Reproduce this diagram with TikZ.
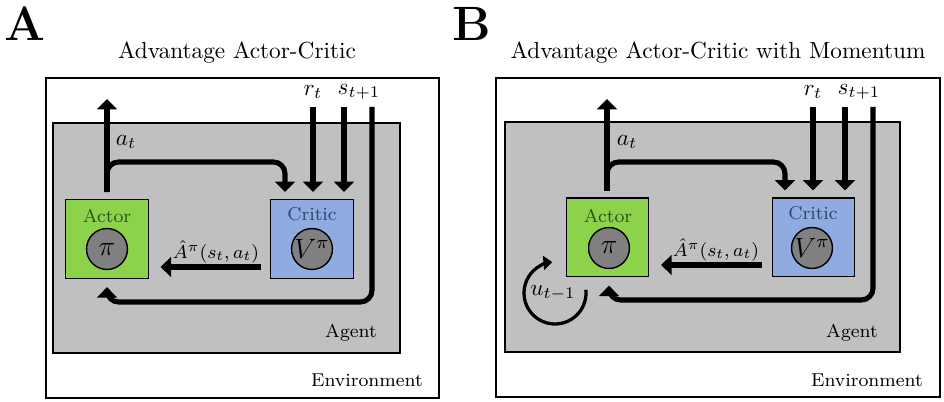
\documentclass[tikz,border=0pt]{standalone}
\usetikzlibrary{arrows.meta}
\definecolor{actorgreen}{HTML}{8DD24B}
\definecolor{criticblue}{HTML}{8FABDF}
\definecolor{agentgray}{HTML}{C0C0C0}
\definecolor{circgray}{HTML}{808080}
\definecolor{actortext}{HTML}{2C4F1C}
\definecolor{critictext}{HTML}{2D4270}
\tikzset{
  flow/.style={line width=2.2pt,-{Triangle[width=8.5pt,length=4.5pt]},rounded corners=5pt},
  momentum/.style={line width=1.4pt,-{Triangle[width=6pt,length=3.8pt]}},
  envbox/.style={draw,line width=0.9pt,fill=white},
  agentbox/.style={draw,line width=0.9pt,fill=agentgray},
  unitbox/.style={draw,line width=0.6pt,minimum width=35.5pt,minimum height=33.8pt,inner sep=0pt},
  policy/.style={circle,draw,line width=0.6pt,fill=circgray,minimum size=17.6pt,inner sep=0pt,font=\large},
  boxlabel/.style={font=\footnotesize},
  paneltitle/.style={font=\normalsize},
  panelletter/.style={font=\huge\bfseries},
}
\begin{document}
\begin{tikzpicture}[x=0.43pt,y=0.43pt]
  \useasboundingbox (0,0) rectangle (944,402);

  % panel A
  \node[panelletter] (letterA) at (25,378) {A};
  \node[paneltitle] (titleA) at (237,349) {Advantage Actor-Critic};
  \draw[envbox] (46,4) rectangle (439,324);
  \draw[agentbox] (53,49) rectangle (400,279);
  \node[boxlabel,anchor=east] (envlabA) at (431,22) {Environment};
  \node[boxlabel,anchor=east] (agentlabA) at (385,69) {Agent};
  \node[unitbox,fill=actorgreen] (actorA) at (107,163) {};
  \node[unitbox,fill=criticblue] (criticA) at (312,163) {};
  \node[boxlabel,text=actortext] (actorlabA) at (107,186) {Actor};
  \node[boxlabel,text=critictext] (criticlabA) at (312,188) {Critic};
  \node[policy] (piA) at (107,153) {$\pi$};
  \node[policy] (vA) at (312,153) {$V^{\pi}$};
  \coordinate (outA) at (107,303);
  \coordinate (brA) at (285,240);
  \coordinate (rA) at (313,295);
  \coordinate (sA) at (344,295);
  \coordinate (fbA) at (372,295);
  \coordinate (fbcA) at (107,100);
  \coordinate (advA) at (0,135);
  \node (rlabA) at (313,310) {$r_t$};
  \node (slabA) at (359,310) {$s_{t+1}$};
  \node (alabA) at (126,260) {$a_t$};
  \node[font=\footnotesize,inner sep=1pt] (advlabA) at (216,150) {$\hat{A}^{\pi}(s_t,a_t)$};
  \draw[flow] ([yshift=3pt]actorA.north) -- (outA);
  \draw[flow] ([yshift=3pt]actorA.north) |- (brA) -- ([yshift=3pt]brA |- criticA.north);
  \draw[flow] (rA) -- ([yshift=3pt]rA |- criticA.north);
  \draw[flow] (sA) -- ([yshift=3pt]sA |- criticA.north);
  \draw[flow] (fbA) |- (fbcA) -- ([yshift=-3.5pt]actorA.south);
  \draw[flow] ([xshift=-4pt]criticA.west |- advA) -- ([xshift=5pt]actorA.east |- advA);

  % panel B
  \node[panelletter] (letterB) at (472,378) {B};
  \node[paneltitle] (titleB) at (718,349) {Advantage Actor-Critic with Momentum};
  \draw[envbox] (496,5) rectangle (940,324);
  \draw[agentbox] (505,50) rectangle (900,280);
  \node[boxlabel,anchor=east] (envlabB) at (931,22) {Environment};
  \node[boxlabel,anchor=east] (agentlabB) at (886,69) {Agent};
  \node[unitbox,fill=actorgreen] (actorB) at (607.5,164.5) {};
  \node[unitbox,fill=criticblue] (criticB) at (813.5,164.5) {};
  \node[boxlabel,text=actortext] (actorlabB) at (608,186) {Actor};
  \node[boxlabel,text=critictext] (criticlabB) at (813,189) {Critic};
  \node[policy] (piB) at (609,154) {$\pi$};
  \node[policy] (vB) at (812,154) {$V^{\pi}$};
  \coordinate (outB) at (607,303);
  \coordinate (brB) at (785,240);
  \coordinate (rB) at (813,295);
  \coordinate (sB) at (845,295);
  \coordinate (fbB) at (873,295);
  \coordinate (fbcB) at (609,102);
  \coordinate (advB) at (0,137);
  \coordinate (loopB) at (555,109);
  \node (rlabB) at (813,310) {$r_t$};
  \node (slabB) at (859,310) {$s_{t+1}$};
  \node (alabB) at (627,260) {$a_t$};
  \node[font=\footnotesize,inner sep=1pt] (advlabB) at (716,152) {$\hat{A}^{\pi}(s_t,a_t)$};
  \node (ulabB) at (553,109) {$u_{t-1}$};
  \draw[flow] ([yshift=3pt]actorB.north -| outB) -- (outB);
  \draw[flow] ([yshift=3pt]actorB.north -| outB) |- (brB) -- ([yshift=3pt]brB |- criticB.north);
  \draw[flow] (rB) -- ([yshift=3pt]rB |- criticB.north);
  \draw[flow] (sB) -- ([yshift=3pt]sB |- criticB.north);
  \draw[flow] (fbB) |- (fbcB) -- ([yshift=-3.5pt]actorB.south -| fbcB);
  \draw[flow] ([xshift=-4pt]criticB.west |- advB) -- ([xshift=5pt]actorB.east |- advB);
  \draw[momentum] ([shift={(6:31)}]loopB) arc[start angle=6,end angle=-265,radius=31];
\end{tikzpicture}
\end{document}
